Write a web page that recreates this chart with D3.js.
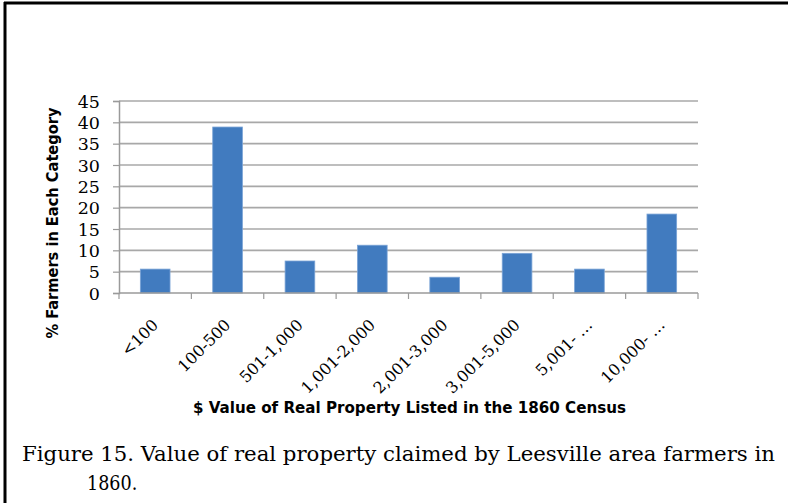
<!DOCTYPE html>
<html>
<head>
<meta charset="utf-8">
<script src="https://cdn.jsdelivr.net/npm/d3@7"></script>
<style>
  body { margin: 0; background: #fff; }
</style>
</head>
<body>
<div id="chart"></div>
<script>
// data
var categories = ["<100", "100-500", "501-1,000", "1,001-2,000", "2,001-3,000", "3,001-5,000", "5,001- …", "10,000- …"];
var percents = [5.6, 38.9, 7.5, 11.2, 3.7, 9.3, 5.6, 18.5];
var yTicks = [0, 5, 10, 15, 20, 25, 30, 35, 40, 45];

var width = 788, height = 503;
var plotLeft = 119, plotRight = 698, plotTop = 101, plotBottom = 293;

var svg = d3.select("#chart").append("svg")
    .attr("width", width)
    .attr("height", height);

// frame of the figure
svg.append("line").attr("x1", 5).attr("x2", 5).attr("y1", 2).attr("y2", height)
    .attr("stroke", "#000").attr("stroke-width", 3);
svg.append("line").attr("x1", 4).attr("x2", width).attr("y1", 3).attr("y2", 3)
    .attr("stroke", "#000").attr("stroke-width", 3);

var x = d3.scaleBand().domain(categories).range([plotLeft, plotRight]).paddingInner(0.59).paddingOuter(0.295);
var y = d3.scaleLinear().domain([0, 45]).range([plotBottom, plotTop]);

// gridlines
svg.append("g")
  .selectAll("line")
  .data(yTicks.slice(1))
  .enter()
  .append("line")
  .attr("x1", plotLeft).attr("x2", plotRight)
  .attr("y1", d => y(d)).attr("y2", d => y(d))
  .attr("stroke", "#a8a8a8")
  .attr("stroke-width", 1.6);

// y axis
var yAxis = svg.append("g")
    .attr("transform", "translate(" + plotLeft + ",0)")
    .call(d3.axisLeft(y).tickValues(yTicks).tickSize(6).tickPadding(13));
yAxis.select(".domain").attr("stroke", "#9a9a9a").attr("stroke-width", 1.5);
yAxis.selectAll(".tick line").attr("stroke", "#9a9a9a").attr("stroke-width", 1.2);
yAxis.selectAll("text")
    .attr("font-family", "'DejaVu Serif', 'Liberation Serif', serif")
    .attr("font-size", 17.5)
    .attr("fill", "#000")
    .attr("dy", "0.36em");

// bars
svg.append("g")
  .selectAll("rect")
  .data(percents)
  .enter()
  .append("rect")
  .attr("x", (d, i) => x(categories[i]))
  .attr("y", d => y(d))
  .attr("width", x.bandwidth())
  .attr("height", d => plotBottom - y(d))
  .attr("fill", "#417bbf")
  .attr("stroke", "#7aa3d6")
  .attr("stroke-width", 0.8);

// x axis
var step = (plotRight - plotLeft) / categories.length;
var bounds = d3.range(categories.length + 1).map(i => plotLeft + i * step);
svg.append("line").attr("x1", plotLeft).attr("x2", plotRight).attr("y1", plotBottom).attr("y2", plotBottom)
    .attr("stroke", "#9a9a9a").attr("stroke-width", 1.5);
svg.append("g")
  .selectAll("line")
  .data(bounds)
  .enter()
  .append("line")
  .attr("x1", d => d).attr("x2", d => d)
  .attr("y1", plotBottom).attr("y2", plotBottom + 6)
  .attr("stroke", "#9a9a9a").attr("stroke-width", 1.2);

svg.append("g")
  .selectAll("text")
  .data(categories)
  .enter()
  .append("text")
  .attr("transform", d => "translate(" + (x(d) + x.bandwidth() / 2 + 4) + "," + (plotBottom + 33) + ") rotate(-45)")
  .attr("text-anchor", "end")
  .attr("font-family", "'DejaVu Serif', 'Liberation Serif', serif")
  .attr("font-size", 16)
  .attr("fill", "#000")
  .text(d => d);

// axis titles
svg.append("text")
  .attr("transform", "translate(58,223) rotate(-90)")
  .attr("text-anchor", "middle")
  .attr("font-family", "'DejaVu Sans Condensed', 'Liberation Sans Narrow', sans-serif")
  .attr("font-weight", "bold")
  .attr("font-size", 15.5)
  .attr("textLength", 231)
  .attr("lengthAdjust", "spacingAndGlyphs")
  .text("% Farmers in Each  Category");

svg.append("text")
  .attr("x", 193).attr("y", 413)
  .attr("font-family", "'DejaVu Sans Condensed', 'Liberation Sans Narrow', sans-serif")
  .attr("font-weight", "bold")
  .attr("font-size", 15)
  .attr("textLength", 433)
  .attr("lengthAdjust", "spacingAndGlyphs")
  .text("$ Value of Real Property Listed in the 1860 Census");

// caption
svg.append("text")
  .attr("x", 22).attr("y", 461)
  .attr("font-family", "'DejaVu Serif Condensed', 'Liberation Serif', serif")
  .attr("font-size", 19.5)
  .attr("textLength", 753)
  .attr("lengthAdjust", "spacingAndGlyphs")
  .text("Figure 15. Value of real property claimed by Leesville area farmers in");
svg.append("text")
  .attr("x", 87).attr("y", 490)
  .attr("font-family", "'DejaVu Serif Condensed', 'Liberation Serif', serif")
  .attr("font-size", 19.5)
  .text("1860.");
</script>
</body>
</html>
